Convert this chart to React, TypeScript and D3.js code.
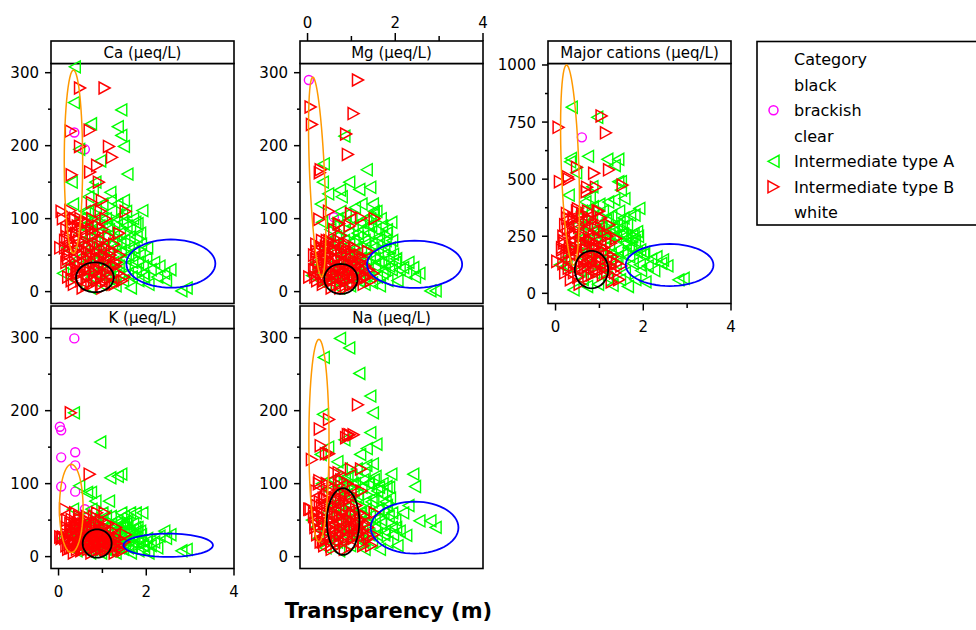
import * as d3 from "d3";
import React from "react";

// ---- samples: Intermediate type A (green) ----
const transA = [
  0.37, 0.35, 0.74, 1.43, 1.35, 1.43, 1.49, 0.47, 0.95, 1.57,
  1.18, 1.49, 1.91, 1.8, 0.84, 0.3, 0.33, 0.1, 0.2, 0.25,
  0.41, 0.45, 0.5, 0.52, 0.55, 0.58, 0.6, 0.62, 0.65, 0.68,
  0.7, 0.72, 0.75, 0.78, 0.8, 0.82, 0.85, 0.88, 0.9, 0.93,
  0.97, 1.0, 1.02, 1.05, 1.08, 1.1, 1.12, 1.15, 1.17, 1.2,
  1.22, 1.25, 1.27, 1.3, 1.32, 1.34, 1.37, 1.4, 1.42, 1.45,
  1.47, 1.5, 1.53, 1.55, 1.58, 1.6, 1.63, 1.65, 1.68, 1.7,
  1.73, 1.76, 1.78, 1.82, 1.85, 1.88, 1.92, 1.95, 2.0, 2.05,
  2.1, 2.18, 2.25, 2.3, 2.41, 2.45, 2.55, 2.8, 2.92,
  0.52, 0.57, 0.63, 0.67, 0.71, 0.76, 0.79, 0.83, 0.87, 0.91,
  0.95, 0.99, 1.03, 1.07, 1.11, 1.14, 1.19, 1.23, 1.26, 1.3,
  1.33, 1.38, 1.41, 1.46, 1.51, 1.54, 1.59, 1.62, 1.67, 1.71,
  1.75, 1.81, 1.86, 1.93, 2.02,
];
const caA = [
  308, 259, 230, 249, 226, 214, 199, 195, 179, 161,
  136, 125, 111, 93, 150, 150, 120, 25, 60, 35,
  15, 45, 80, 100, 30, 65, 110, 20, 85, 130,
  50, 5, 95, 140, 40, 70, 115, 25, 60, 90,
  10, 120, 45, 75, 100, 30, 55, 85, 20, 110,
  65, 40, 95, 8, 70, 120, 35, 80, 55, 105,
  15, 70, 45, 90, 25, 60, 85, 5, 40, 100,
  55, 30, 75, 15, 50, 65, 35, 20, 45, 10,
  30, 40, 20, 35, 25, 15, 30, 1, 5,
  60, 90, 40, 110, 75, 20, 55, 100, 45, 80,
  30, 100, 60, 20, 90, 40, 125, 15, 80, 50,
  100, 25, 65, 95, 35, 110, 50, 75, 20, 60,
  95, 40, 80, 25, 60,
];
const mgA = [
  175, 150, 139, 143, 167, 100, 105, 134, 150, 110,
  140, 120, 95, 80, 213, 120, 95, 22, 40, 30,
  10, 60, 70, 85, 20, 55, 90, 15, 75, 100,
  40, 5, 110, 130, 35, 60, 95, 20, 50, 80,
  8, 100, 45, 70, 115, 25, 60, 75, 15, 95,
  55, 40, 85, 10, 65, 100, 30, 80, 50, 90,
  12, 60, 45, 85, 20, 55, 75, 8, 40, 90,
  50, 30, 70, 15, 45, 60, 30, 51, 40, 15,
  30, 33, 25, 40, 33, 20, 25, 1, 1,
  30, 45, 65, 25, 85, 50, 20, 70, 105, 40,
  65, 30, 90, 50, 20, 80, 45, 120, 25, 70,
  45, 90, 20, 65, 110, 35, 70, 40, 100, 25,
  60, 85, 35, 70, 45,
];
const kA = [
  40, 197, 88, 113, 110, 60, 55, 97, 157, 50,
  108, 45, 60, 40, 76, 35, 65, 25, 30, 20,
  8, 30, 42, 25, 15, 38, 55, 10, 88, 45,
  25, 5, 65, 50, 20, 30, 45, 12, 35, 28,
  5, 60, 22, 40, 55, 15, 30, 76, 8, 45,
  25, 20, 35, 5, 30, 50, 15, 40, 25, 45,
  10, 35, 22, 38, 12, 28, 60, 5, 20, 45,
  25, 60, 35, 8, 22, 30, 15, 10, 20, 5,
  15, 20, 12, 28, 35, 25, 30, 8, 10,
  20, 35, 15, 40, 30, 10, 25, 50, 20, 35,
  15, 45, 25, 10, 40, 18, 55, 8, 35, 25,
  45, 12, 30, 40, 18, 45, 22, 35, 12, 28,
  40, 20, 35, 15, 25,
];
const naA = [
  273, 195, 299, 220, 148, 170, 127, 150, 286, 154,
  251, 197, 113, 96, 160, 140, 100, 50, 40, 25,
  12, 60, 90, 75, 30, 70, 105, 20, 65, 130,
  45, 8, 95, 120, 40, 60, 108, 30, 85, 70,
  15, 110, 50, 90, 100, 35, 120, 80, 25, 140,
  60, 45, 105, 10, 75, 125, 40, 100, 55, 90,
  20, 80, 50, 110, 30, 65, 95, 10, 50, 85,
  60, 35, 75, 20, 55, 80, 40, 30, 50, 15,
  35, 60, 29, 70, 113, 96, 49, 49, 40,
  35, 55, 80, 20, 100, 60, 25, 90, 50, 110,
  35, 70, 100, 55, 30, 85, 60, 95, 20, 115,
  65, 100, 30, 75, 105, 40, 90, 65, 45, 100,
  30, 70, 95, 60, 40,
];
const majA = [
  815, 591, 600, 587, 560, 489, 452, 528, 771, 415,
  587, 489, 372, 343, 467, 430, 576, 125, 150, 120,
  15, 210, 300, 330, 100, 240, 360, 60, 300, 400,
  180, 30, 350, 420, 150, 230, 380, 90, 250, 280,
  40, 390, 170, 290, 360, 110, 260, 320, 70, 400,
  210, 150, 340, 35, 250, 410, 130, 300, 190, 360,
  60, 260, 170, 330, 90, 220, 300, 30, 160, 343,
  200, 130, 260, 60, 180, 250, 125, 100, 170, 50,
  120, 150, 100, 160, 131, 146, 120, 59, 66,
  170, 260, 210, 230, 300, 150, 130, 320, 200, 280,
  140, 270, 290, 120, 200, 240, 330, 260, 170, 280,
  290, 250, 160, 310, 290, 260, 250, 240, 200, 230,
  250, 230, 270, 190, 180,
];

// ---- samples: Intermediate type B (red) ----
const transB = [
  0.49, 1.05, 0.28, 0.71, 0.49, 1.15, 1.22, 0.88, 0.72, 0.1,
  0.07, 0.99, 0.76, 0.92, 0.27, 0.3, 0.42, 0.61, 0.04, 0.15,
  0.96, 1.53, 0.33, 0.15, 0.18, 0.2, 0.22, 0.25, 0.28, 0.3,
  0.33, 0.35, 0.38, 0.4, 0.42, 0.45, 0.48, 0.5, 0.52, 0.55,
  0.58, 0.6, 0.63, 0.65, 0.68, 0.7, 0.73, 0.75, 0.78, 0.8,
  0.83, 0.85, 0.88, 0.9, 0.93, 0.95, 0.98, 1.0, 1.03, 1.05,
  1.08, 1.1, 1.13, 1.15, 1.18, 1.22, 1.25, 1.28, 1.32, 1.36,
  1.4, 1.45, 0.55, 0.65, 0.45, 0.85, 1.0, 0.2, 0.75, 0.38,
  0.18, 0.22, 0.26, 0.3, 0.34, 0.37, 0.41, 0.44, 0.47, 0.51,
  0.54, 0.57, 0.61, 0.64, 0.67, 0.71, 0.74, 0.77, 0.81, 0.84,
  0.87, 0.91, 0.94, 0.97, 1.01, 1.04, 1.07, 1.11, 1.14, 1.19,
  1.23, 1.27, 1.31, 1.38, 1.5,
];
const caB = [
  279, 279, 220, 221, 199, 199, 184, 173, 164, 100,
  110, 125, 122, 150, 111, 160, 75, 95, 60, 70,
  110, 110, 90, 60, 40, 75, 20, 55, 90, 30,
  65, 10, 45, 80, 25, 60, 35, 100, 15, 50,
  70, 30, 85, 45, 20, 60, 35, 10, 75, 40,
  25, 55, 15, 65, 30, 45, 20, 70, 35, 50,
  15, 60, 30, 45, 20, 55, 35, 10, 40, 25,
  50, 15, 5, 55, 30, 30, 5, 50, 85, 100,
  85, 45, 70, 15, 100, 55, 30, 90, 70, 25,
  85, 40, 65, 10, 95, 30, 50, 100, 15, 80,
  45, 90, 60, 10, 85, 40, 100, 25, 75, 50,
  10, 65, 35, 80, 20,
];
const mgB = [
  110, 244, 163, 93, 62, 290, 101, 216, 93, 229,
  253, 107, 77, 188, 99, 167, 62, 85, 20, 30,
  90, 100, 70, 50, 30, 45, 15, 35, 60, 25,
  45, 10, 40, 55, 20, 35, 30, 70, 15, 40,
  60, 25, 55, 30, 20, 45, 35, 10, 50, 30,
  20, 40, 15, 55, 25, 35, 10, 45, 30, 40,
  20, 50, 25, 35, 15, 40, 30, 10, 35, 20,
  30, 15, 5, 25, 45, 60, 30, 65, 5, 15,
  20, 55, 40, 60, 30, 15, 50, 70, 20, 50,
  35, 15, 65, 45, 10, 70, 30, 55, 20, 65,
  5, 40, 65, 20, 50, 10, 60, 35, 15, 50,
  25, 45, 20, 55, 25,
];
const kB = [
  51, 60, 197, 113, 40, 30, 25, 60, 35, 27,
  25, 20, 30, 45, 45, 51, 40, 50, 27, 65,
  40, 30, 30, 25, 15, 30, 10, 20, 35, 12,
  28, 5, 18, 40, 10, 25, 15, 45, 8, 22,
  30, 12, 38, 20, 10, 28, 15, 5, 35, 18,
  12, 25, 8, 30, 15, 20, 10, 28, 15, 22,
  8, 30, 12, 20, 10, 25, 15, 5, 18, 10,
  15, 8, 15, 55, 45, 40, 30, 50, 25, 60,
  40, 25, 12, 35, 20, 45, 30, 15, 55, 30,
  10, 45, 25, 50, 20, 40, 10, 30, 55, 20,
  45, 15, 35, 50, 20, 40, 10, 30, 45, 20,
  35, 15, 40, 25, 20,
];
const naB = [
  188, 167, 175, 115, 141, 208, 120, 163, 98, 133,
  65, 120, 80, 167, 104, 152, 141, 115, 65, 60,
  167, 60, 70, 55, 40, 60, 30, 50, 75, 35,
  55, 20, 45, 80, 25, 60, 40, 90, 30, 50,
  70, 45, 60, 35, 55, 75, 30, 40, 60, 50,
  20, 85, 65, 45, 30, 70, 50, 40, 60, 25,
  35, 55, 45, 30, 40, 50, 35, 20, 45, 30,
  25, 15, 10, 25, 85, 10, 85, 90, 30, 15,
  45, 70, 100, 20, 60, 80, 30, 100, 50, 70,
  15, 95, 40, 80, 20, 90, 55, 105, 35, 75,
  25, 100, 50, 80, 15, 95, 40, 70, 30, 60,
  90, 15, 55, 40, 30,
];
const majB = [
  552, 777, 510, 445, 360, 703, 541, 526, 465, 489,
  727, 360, 325, 465, 330, 500, 325, 350, 140, 200,
  360, 474, 325, 190, 130, 220, 90, 170, 280, 110,
  200, 60, 160, 260, 90, 190, 130, 310, 70, 170,
  230, 120, 250, 140, 110, 210, 120, 75, 230, 150,
  80, 200, 110, 200, 100, 170, 95, 190, 140, 140,
  80, 200, 110, 130, 90, 170, 120, 50, 140, 90,
  130, 60, 40, 160, 200, 140, 150, 230, 140, 180,
  250, 300, 350, 180, 280, 230, 330, 260, 200, 370,
  290, 220, 340, 260, 310, 190, 360, 270, 230, 320,
  250, 300, 210, 280, 240, 330, 200, 270, 180, 250,
  300, 220, 160, 240, 120,
];

// ---- samples: brackish (magenta), null = not shown in that panel ----
const transBr = [0.03, 0.06, 0.06, 0.06, 0.36, 0.38, 0.38, 0.38, 0.6, 0.03];
const caBr = [null, null, null, null, 218, null, null, null, 195, null];
const mgBr = [290, null, null, null, null, null, null, null, 102, null];
const kBr = [178, 173, 136, 96, 299, 143, 125, 89, 65, 25];
const naBr = [null, null, null, null, null, null, null, null, null, null];
const majBr = [null, null, null, null, null, null, null, null, 683, null];

// ellipses [cx, cy, rx, ry, lean] per panel: Ca, Mg, Major, K, Na
const whiteEll = [
  [0.34, 178, 0.21, 125.6, 0],
  [0.22, 157, 0.17, 137, 0.1],
  [0.33, 562, 0.2, 438, 0.08],
  [0.29, 66, 0.27, 60.5, 0],
  [0.26, 159, 0.23, 138.7, 0],
];
const blackEll = [
  [0.83, 19.6, 0.43, 20.5, 0],
  [0.76, 17.4, 0.38, 20.5, 0],
  [0.82, 104, 0.38, 82, 0],
  [0.88, 18, 0.33, 19.4, 0],
  [0.81, 48, 0.37, 45.7, 0],
];
const clearEll = [
  [2.56, 38.4, 1.015, 33, 0],
  [2.44, 37.4, 1.085, 32.4, 0],
  [2.6, 124, 1.0, 92, 0],
  [2.5, 15.6, 1.02, 16, 0],
  [2.44, 39.7, 1.0, 35.6, 0],
];

const legendLabels = [
  "Category",
  "black",
  "brackish",
  "clear",
  "Intermediate type A",
  "Intermediate type B",
  "white",
];

const smallTicks = [0, 100, 200, 300];
const smallMinor = [50, 150, 250];
const bigTicks = [0, 250, 500, 750, 1000];
const bigMinor = [125, 375, 625, 875];
const xTicks = [0, 2, 4];
const xMinor = [1, 3];

const panels = [
  { title: "Ca (µeq/L)", col: 0, row: 0, a: caA, b: caB, br: caBr, axis: "none", big: false },
  { title: "Mg (µeq/L)", col: 1, row: 0, a: mgA, b: mgB, br: mgBr, axis: "top", big: false },
  { title: "Major cations (µeq/L)", col: 2, row: 0, a: majA, b: majB, br: majBr, axis: "bottom", big: true },
  { title: "K (µeq/L)", col: 0, row: 1, a: kA, b: kB, br: kBr, axis: "bottom", big: false },
  { title: "Na (µeq/L)", col: 1, row: 1, a: naA, b: naB, br: naBr, axis: "none", big: false },
];

const colLeft = [51, 300, 548];
const rowTop = [41, 306];
const panelW = 183;
const headH = 22.5;
const plotH = 240;

const GREEN = "#00ff00";
const RED = "#ff0000";
const MAGENTA = "#ff00ff";
const ORANGE = "#ff9900";
const BLUE = "#0000ff";
const FONT = "DejaVu Sans";

const triLeft = "M-5.5,0L5.5,-6L5.5,6Z";
const triRight = "M5.5,0L-5.5,-6L-5.5,6Z";

function ellipsePath(e: number[], x: any, y: any) {
  const [cx, cy, rx, ry, lean] = e;
  const pts = d3.range(60).map((i) => {
    const t = (i / 60) * 2 * Math.PI;
    return [
      x(cx + rx * Math.cos(t) - lean * Math.sin(t)),
      y(cy + ry * Math.sin(t)),
    ] as [number, number];
  });
  return d3.line().curve(d3.curveLinearClosed)(pts) || "";
}

function Panel({ p, idx }: { p: any; idx: number }) {
  const left = colLeft[p.col];
  const top = rowTop[p.row];
  const plotTop = top + headH;
  const plotBottom = plotTop + plotH;
  const x = d3.scaleLinear().domain([-0.172, 4]).range([left, left + panelW]);
  const y = d3
    .scaleLinear()
    .domain(p.big ? [-44.5, 1006.5] : [-16.3, 312.6])
    .range([plotBottom, plotTop]);
  const major = p.big ? bigTicks : smallTicks;
  const minor = p.big ? bigMinor : smallMinor;

  return (
    <g>
      <rect x={left} y={plotTop} width={panelW} height={plotH} fill="white" stroke="black" strokeWidth={1.6} />
      <rect x={left} y={top} width={panelW} height={headH} fill="white" stroke="black" strokeWidth={1.6} />
      <text
        x={left + panelW / 2}
        y={top + headH / 2 + 5.5}
        textAnchor="middle"
        fontFamily={FONT}
        fontSize={15}
      >
        {p.title}
      </text>

      {/* y axis */}
      {major.map((t: number) => (
        <g key={`ym-${t}`}>
          <line x1={left - 6} x2={left} y1={y(t)} y2={y(t)} stroke="black" strokeWidth={1.5} />
          <text x={left - 12} y={y(t) + 5.5} textAnchor="end" fontFamily={FONT} fontSize={15}>
            {t}
          </text>
        </g>
      ))}
      {minor.map((t: number) => (
        <line key={`yn-${t}`} x1={left - 3} x2={left} y1={y(t)} y2={y(t)} stroke="black" strokeWidth={1.5} />
      ))}

      {/* x axis */}
      {p.axis === "bottom" &&
        xTicks.map((t) => (
          <g key={`xb-${t}`}>
            <line x1={x(t)} x2={x(t)} y1={plotBottom} y2={plotBottom + 7} stroke="black" strokeWidth={1.5} />
            <text x={x(t)} y={plotBottom + 28} textAnchor="middle" fontFamily={FONT} fontSize={15}>
              {t}
            </text>
          </g>
        ))}
      {p.axis === "bottom" &&
        xMinor.map((t) => (
          <line key={`xbn-${t}`} x1={x(t)} x2={x(t)} y1={plotBottom} y2={plotBottom + 4.5} stroke="black" strokeWidth={1.5} />
        ))}
      {p.axis === "top" &&
        xTicks.map((t) => (
          <g key={`xt-${t}`}>
            <line x1={x(t)} x2={x(t)} y1={top} y2={top - 8} stroke="black" strokeWidth={1.5} />
            <text x={x(t)} y={top - 13} textAnchor="middle" fontFamily={FONT} fontSize={15}>
              {t}
            </text>
          </g>
        ))}
      {p.axis === "top" &&
        xMinor.map((t) => (
          <line key={`xtn-${t}`} x1={x(t)} x2={x(t)} y1={top} y2={top - 5} stroke="black" strokeWidth={1.5} />
        ))}

      {/* points */}
      {p.br.map((v: number | null, i: number) =>
        v == null ? null : (
          <circle key={`br-${i}`} cx={x(transBr[i])} cy={y(v)} r={4.5} fill="none" stroke={MAGENTA} strokeWidth={1.4} />
        )
      )}
      {p.a.map((v: number, i: number) => (
        <path
          key={`a-${i}`}
          d={triLeft}
          transform={`translate(${x(transA[i])},${y(v)})`}
          fill="none"
          stroke={GREEN}
          strokeWidth={1.4}
        />
      ))}
      {p.b.map((v: number, i: number) => (
        <path
          key={`b-${i}`}
          d={triRight}
          transform={`translate(${x(transB[i])},${y(v)})`}
          fill="none"
          stroke={RED}
          strokeWidth={1.5}
        />
      ))}

      {/* category ellipses */}
      <path d={ellipsePath(whiteEll[idx], x, y)} fill="none" stroke={ORANGE} strokeWidth={1.5} />
      <path d={ellipsePath(blackEll[idx], x, y)} fill="none" stroke="black" strokeWidth={1.8} />
      <path d={ellipsePath(clearEll[idx], x, y)} fill="none" stroke={BLUE} strokeWidth={1.8} />
    </g>
  );
}

export default function App() {
  const legendY = (i: number) => 59.3 + i * 25.5;
  return (
    <svg
      width={976}
      height={630}
      style={{ position: "absolute", left: 0, top: 0, background: "white" }}
    >
      {panels.map((p, i) => (
        <Panel key={p.title} p={p} idx={i} />
      ))}

      <text x={388.5} y={618} textAnchor="middle" fontFamily={FONT} fontSize={21} fontWeight="bold">
        Transparency (m)
      </text>

      {/* legend */}
      <rect x={757} y={41.5} width={230} height={183.5} fill="white" stroke="black" strokeWidth={1.6} />
      {legendLabels.map((l, i) => (
        <text key={l} x={794} y={legendY(i) + 6} fontFamily={FONT} fontSize={16}>
          {l}
        </text>
      ))}
      <circle cx={773.5} cy={legendY(2)} r={4.5} fill="none" stroke={MAGENTA} strokeWidth={1.5} />
      <path d={triLeft} transform={`translate(773.5,${legendY(4)})`} fill="none" stroke={GREEN} strokeWidth={1.5} />
      <path d={triRight} transform={`translate(773.5,${legendY(5)})`} fill="none" stroke={RED} strokeWidth={1.5} />
    </svg>
  );
}
